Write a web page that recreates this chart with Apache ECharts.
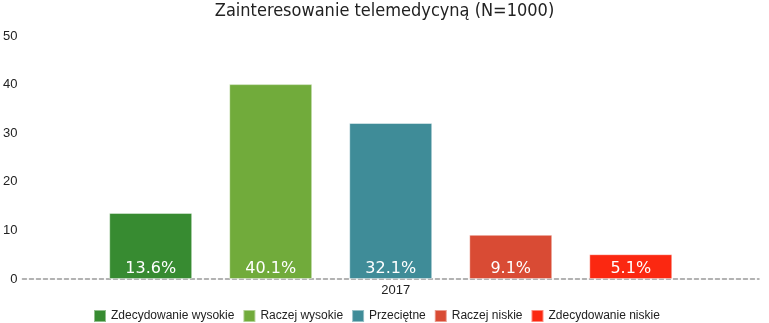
<!DOCTYPE html>
<html><head><meta charset="utf-8">
<script src="https://cdn.jsdelivr.net/npm/echarts@6/dist/echarts.min.js"></script>
<style>html,body{margin:0;padding:0;background:#fff}#c{width:769px;height:323px}</style>
</head><body><div id="c"></div>
<script>
var categories = ['2017'];
var seriesNames = ['Zdecydowanie wysokie', 'Raczej wysokie', 'Przeciętne', 'Raczej niskie', 'Zdecydowanie niskie'];
var seriesValues = [13.6, 40.1, 32.1, 9.1, 5.1];
var colors = ['#378b31', '#71ab3b', '#3f8c98', '#d94b34', '#fb2811'];
var yMin = 0, yMax = 50, yInterval = 10;

var series = seriesNames.map(function (n, i) {
  return {
    name: n, type: 'bar', barWidth: 83, barGap: '44.6%',
    data: [seriesValues[i]],
    itemStyle: { color: colors[i], borderColor: 'rgba(255,255,255,0.45)', borderWidth: 1 },
    label: { show: true, position: 'insideBottom', distance: 2, color: '#fff',
      fontFamily: 'DejaVu Sans', fontSize: 16,
      formatter: function (p) { return p.value.toFixed(1) + '%'; } }
  };
});

var chart = echarts.init(document.getElementById('c'));
chart.setOption({
  animation: false,
  color: colors,
  title: { text: 'Zainteresowanie telemedycyną (N=1000)', left: 'center', top: 0, padding: [2, 0, 0, 0],
    textStyle: { fontFamily: 'DejaVu Sans Condensed', fontWeight: 'normal', fontSize: 18, color: '#222' } },
  legend: { left: 93, top: 309, padding: 0, itemWidth: 12, itemHeight: 12, itemGap: 8,
    icon: 'rect', textStyle: { fontFamily: 'Liberation Sans', fontSize: 12, color: '#222' },
    data: seriesNames },
  grid: { left: 20, right: 10, top: 36, bottom: 44 },
  xAxis: { type: 'category', data: categories,
    axisLine: { lineStyle: { color: '#999', type: [4, 3], width: 1.5 } },
    axisTick: { show: false },
    axisLabel: { fontFamily: 'Liberation Sans', fontSize: 13, color: '#222', margin: 5, padding: [0, 0, 0, 10] } },
  yAxis: { type: 'value', min: yMin, max: yMax, interval: yInterval,
    splitLine: { show: false }, axisLine: { show: false }, axisTick: { show: false },
    axisLabel: { fontFamily: 'Liberation Sans', fontSize: 13, color: '#222', margin: 5 } },
  series: series
});
</script></body></html>
